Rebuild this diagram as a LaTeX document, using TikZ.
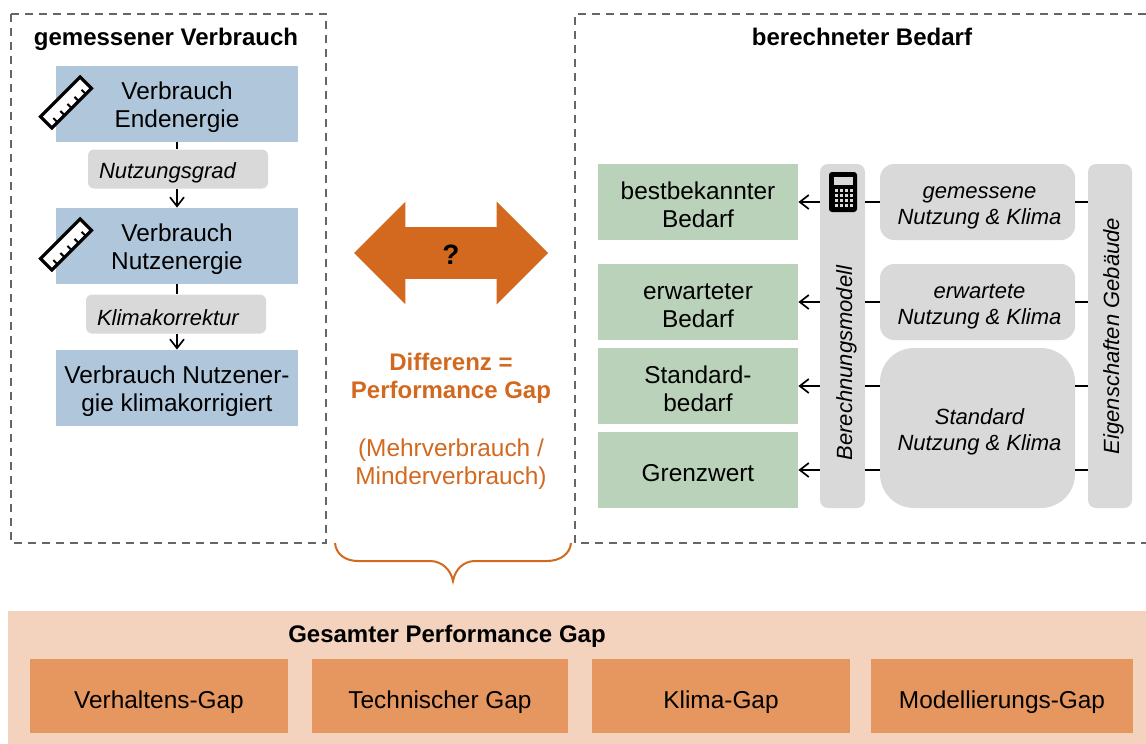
\documentclass[tikz,border=0pt]{standalone}
\usepackage{fontspec}
\setmainfont{Liberation Sans}
\usepackage{tikz}
\usetikzlibrary{arrows.meta,shapes.arrows}
\definecolor{gapdark}{HTML}{D2691F}
\definecolor{gapmid}{HTML}{E6965F}
\definecolor{gaplight}{HTML}{F4D3BE}
\definecolor{messblue}{HTML}{AFC6DB}
\definecolor{bedarfgreen}{HTML}{B9D2B9}
\definecolor{paneldash}{HTML}{666666}
\tikzset{
	every node/.style={inner sep=0pt,align=center,font=\fontsize{12.2}{14}\selectfont,execute at begin node={\rule{0pt}{11.5pt}}},
	conn/.style={line width=0.85pt,>={Straight Barb[length=4.5pt,width=7pt]}},
	frame/.style={draw=paneldash,line width=0.75pt,dash pattern=on 4pt off 3pt},
	zwei/.style={execute at begin node={\rule{0pt}{26pt}}},
	messbox/.style={zwei,fill=messblue,minimum width=121pt,minimum height=38pt},
	bedarfbox/.style={fill=bedarfgreen,minimum width=100pt,minimum height=38pt},
	gapbox/.style={fill=gapmid,minimum height=37pt,execute at begin node={\rule{0pt}{15.5pt}}},
	faktor/.style={fill=black!15,rounded corners=3pt,minimum height=19.5pt,text width=79pt,inner xsep=5.5pt,align=left,font=\fontsize{11}{13}\selectfont\itshape},
	nutzung/.style={fill=black!15,rounded corners=7pt,minimum width=97.5pt,font=\fontsize{11}{13}\selectfont\itshape,execute at begin node={\hspace*{2pt}\rule{0pt}{24.5pt}}},
	balken/.style={fill=black!15,rounded corners=4pt,minimum height=172pt},
	vtext/.style={rotate=90,font=\fontsize{11}{13}\selectfont\itshape},
	titel/.style={font=\fontsize{12}{14}\selectfont\bfseries},
}
\newcommand{\rulericon}[2]{
	\begin{scope}[shift={(#1,#2)},rotate=45]
		\draw [fill=white,line width=1.6pt] (-28,-8) rectangle (28,8);
		\foreach \tx in {-20,-10,0,10,20}
			\draw [line width=1pt] (\tx,8) -- (\tx,2);
	\end{scope}
}
\begin{document}
\begin{tikzpicture}[x=0.5pt,y=-0.5pt]
	\useasboundingbox (0,0) rectangle (1146,744);
	% gemessener Verbrauch
	\draw [frame] (11,14) rectangle (326,543);
	\node [titel,anchor=base] (titelv) at (166,45) {gemessener Verbrauch};
	\node [messbox] (vend) at (177,104) {Verbrauch\\Endenergie};
	\node [messbox] (vnutz) at (177,246) {Verbrauch\\Nutzenergie};
	\node [messbox] (vklima) at (177,388) {Verbrauch Nutzener-\\gie klimakorrigiert};
	\node [faktor] (grad) at (178,169) {Nutzungsgrad};
	\node [faktor] (korr) at (176,314) {Klimakorrektur};
	%
	\draw [conn] (vend.south) -- (vend.south |- grad.north);
	\draw [conn,->] (vend.south |- grad.south) -- (vnutz.north);
	\draw [conn] (vnutz.south) -- (vnutz.south |- korr.north);
	\draw [conn,->] (vnutz.south |- korr.south) -- (vklima.north);
	%
	\rulericon{66}{102.5}
	\rulericon{66}{244.5}
	% Differenz
	\node [shape=double arrow,fill=gapdark,minimum height=97pt,minimum width=51pt,inner ysep=7pt,double arrow head extend=12.75pt] (gap) at (451,253) {};
	\node [font=\fontsize{14}{16}\selectfont\bfseries] (frage) at (gap) {?};
	\node [titel,text=gapdark] (diff) at (451,378) {Differenz =\\Performance Gap};
	\node [text=gapdark] (mehr) at (451,464) {(Mehrverbrauch /\\Minderverbrauch)};
	\draw [gapdark,line width=1pt] (335,543) .. controls (336,554) and (345,561) .. (358,561) -- (430,561) .. controls (442,561) and (451,570) .. (453,581) .. controls (455,570) and (463,561) .. (475,561) -- (547,561) .. controls (560,561) and (570,554) .. (571,543);
	% berechneter Bedarf
	\draw [frame] (1146,14) -- (575,14) -- (575,543) -- (1146,543);
	\node [titel,anchor=base] (titelb) at (862,45) {berechneter Bedarf};
	\node [bedarfbox,zwei] (best) at (698,202) {bestbekannter\\Bedarf};
	\node [bedarfbox,zwei] (erw) at (698,302) {erwarteter\\Bedarf};
	\node [bedarfbox,zwei] (std) at (698,386) {Standard-\\bedarf};
	\node [bedarfbox] (grenz) at (698,470) {Grenzwert};
	\node [balken,minimum width=22.5pt] (modell) at (842.5,336) {};
	\node [balken,minimum width=22pt] (geb) at (1110,336) {};
	\node [vtext] (modelltext) at (843,363) {Berechnungsmodell};
	\node [vtext] (gebtext) at (1110,336) {Eigenschaften Gebäude};
	\node [nutzung,minimum height=38pt] (ngem) at (977.5,202) {gemessene\\Nutzung \& Klima};
	\node [nutzung,minimum height=38pt] (nerw) at (977.5,302) {erwartete\\Nutzung \& Klima};
	\node [nutzung,minimum height=80pt,rounded corners=17pt] (nstd) at (977.5,428) {Standard\\Nutzung \& Klima};
	%
	\foreach \ziel/\nutz in {best/ngem,erw/nerw,std/nstd,grenz/nstd} {
		\draw [conn,->] (modell.west |- \ziel) -- (\ziel.east);
		\draw [conn] (\nutz.west |- \ziel) -- (modell.east |- \ziel);
		\draw [conn] (geb.west |- \ziel) -- (\nutz.east |- \ziel);
	}
	% Rechner
	\node [fill=black,rounded corners=1.5pt,minimum width=14pt,minimum height=20pt] (rechner) at (843,192) {};
	\fill [black!15] (834,177) rectangle (853,185);
	\foreach \kx in {0,1,2,3}
		\foreach \ky in {0,1,2,3}
			\fill [black!15] (834.5+\kx*5,188.5+\ky*5) rectangle +(3.4,3.4);
	% Gesamter Performance Gap
	\node [fill=gaplight,minimum width=569pt,minimum height=66.5pt] (gesamt) at (577,677.5) {};
	\node [titel] (gesamttitel) at (447,633) {Gesamter Performance Gap};
	\node [gapbox,minimum width=129pt] (verh) at (159,696) {Verhaltens-Gap};
	\node [gapbox,minimum width=128pt] (tech) at (440,696) {Technischer Gap};
	\node [gapbox,minimum width=129pt] (klima) at (721,696) {Klima-Gap};
	\node [gapbox,minimum width=131pt] (mod) at (1002,696) {Modellierungs-Gap};
\end{tikzpicture}
\end{document}
